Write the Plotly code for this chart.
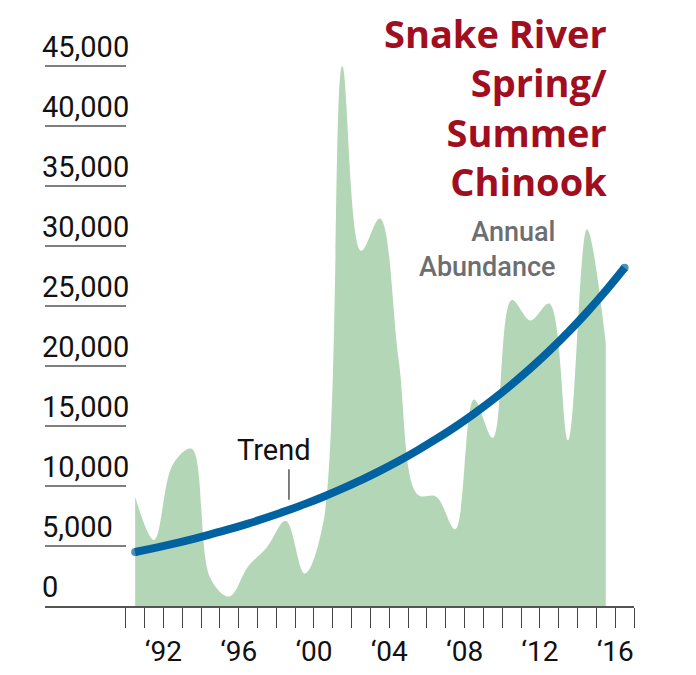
import plotly.graph_objects as go

# Snake River spring/summer Chinook, annual abundance
years = list(range(1990, 2016))
abundance = [9100, 5500, 11800, 13100, 2300, 800, 3300, 4900, 7100, 2700,
             7000, 45000, 29600, 32300, 20500, 9300, 9100, 6400, 17200, 14000,
             25500, 23800, 25200, 13800, 31400, 21900]

trend_years = list(range(1990, 2017))
trend = [4500, 4830, 5180, 5560, 5970, 6400, 6870, 7370, 7910, 8490,
         9110, 9780, 10490, 11260, 12080, 12970, 13920, 14930, 16030, 17200,
         18460, 19810, 21260, 22810, 24480, 26270, 28190]

y_ticks = [0, 5000, 10000, 15000, 20000, 25000, 30000, 35000, 40000, 45000]
y_labels = ["0", "5,000", "10,000", "15,000", "20,000", "25,000",
            "30,000", "35,000", "40,000", "45,000"]

x_ticks = list(range(1990, 2018))
x_labels = ["‘" + str(y)[2:] if y % 4 == 0 else "" for y in x_ticks]

GREEN = "#b3d6b6"
BLUE = "#0062a0"
RED = "#a00e1f"
GREY = "#6d6e71"
FONT = "Roboto"

fig = go.Figure()

# values are plotted at the middle of each year
fig.add_trace(go.Scatter(
    x=[y + 0.5 for y in years], y=abundance,
    mode="lines", fill="tozeroy", fillcolor=GREEN,
    line=dict(width=0, shape="spline", smoothing=1, color=GREEN),
    hoverinfo="skip", showlegend=False))

sizes = [8] + [0] * (len(trend) - 2) + [8]
fig.add_trace(go.Scatter(
    x=[y + 0.5 for y in trend_years], y=trend,
    mode="lines+markers",
    line=dict(width=8, shape="spline", color=BLUE),
    marker=dict(size=sizes, color=BLUE, line=dict(width=0)),
    hoverinfo="skip", showlegend=False))

# short underlines under the y labels
for v, lab in zip(y_ticks, y_labels):
    if v > 0:
        fig.add_shape(type="line", xref="paper", yref="y", x0=0, x1=0.1375,
                      y0=v, y1=v, line=dict(color="#555555", width=1.5))
    fig.add_annotation(xref="paper", yref="y", x=0, y=v, text=lab,
                       xanchor="left", yanchor="bottom", xshift=-5, yshift=0,
                       showarrow=False, font=dict(family=FONT, size=29, color="#111111"))

# "Trend" label and its leader
fig.add_shape(type="line", xref="x", yref="y", x0=1998.67, x1=1998.67,
              y0=8850, y1=11400, line=dict(color="#555555", width=1.5))
fig.add_annotation(x=1997.9, y=11400, text="Trend", showarrow=False,
                   xanchor="center", yanchor="bottom",
                   font=dict(family=FONT, size=29, color="#111111"))

fig.add_annotation(xref="paper", yref="paper", x=0.9576, y=1.062,
                   text="Snake River<br>Spring/<br>Summer<br>Chinook",
                   align="right", xanchor="right", yanchor="top", showarrow=False,
                   font=dict(family="Open Sans", size=38, color=RED, weight=700))
fig.add_annotation(xref="paper", yref="paper", x=0.869, y=0.693,
                   text="Annual<br>Abundance",
                   align="right", xanchor="right", yanchor="top", showarrow=False,
                   font=dict(family=FONT, size=27, color=GREY, weight=500))

fig.update_xaxes(range=[1985.71, 2017], tickvals=x_ticks, ticktext=x_labels,
                 ticks="outside", ticklen=20, tickcolor="#444444", tickwidth=1,
                 showline=True, linecolor="#555555", linewidth=1.5,
                 showgrid=False, zeroline=False,
                 tickfont=dict(family=FONT, size=28, color="#111111"))
fig.update_yaxes(range=[0, 47167], showticklabels=False, showgrid=False,
                 zeroline=False, ticks="")

# the page body adds an 8px offset, so margins are trimmed to match
fig.update_layout(width=696, height=675,
                  margin=dict(l=37, r=70, t=32, b=77),
                  plot_bgcolor="white", paper_bgcolor="white")

fig.write_html("out.html")
